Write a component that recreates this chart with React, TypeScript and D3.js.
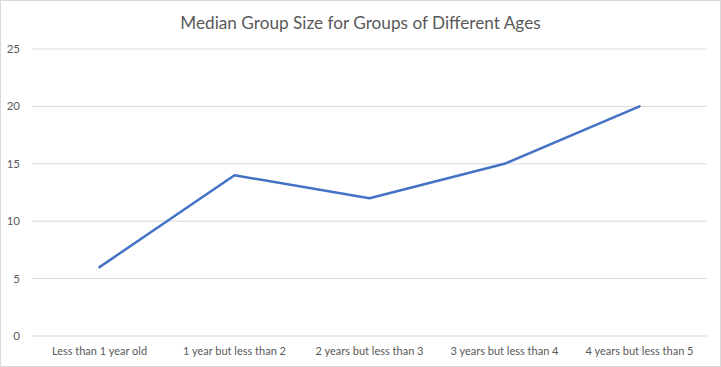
import React from "react";
import * as d3 from "d3";

const categories = [
  "Less than 1 year old",
  "1 year but less than 2",
  "2 years but less than 3",
  "3 years but less than 4",
  "4 years but less than 5",
];
const values = [6, 14, 12, 15, 20];
const yTicks = [0, 5, 10, 15, 20, 25];
const title = "Median Group Size for Groups of Different Ages";

export default function App() {
  const W = 721;
  const H = 367;
  const left = 32;
  const right = 707;
  const top = 49;
  const bottom = 336;

  const x = d3.scalePoint<string>().domain(categories).range([left, right]).padding(0.5);
  const y = d3.scaleLinear().domain([0, 25]).range([bottom, top]);
  const line = d3
    .line<number>()
    .x((_, i) => x(categories[i]) as number)
    .y((d) => y(d));

  const textColor = "#595959";
  const font = "Lato, 'Open Sans', sans-serif";

  return (
    <svg
      width={W}
      height={H}
      style={{ position: "absolute", left: 0, top: 0, background: "#fff" }}
    >
      <rect x={0.5} y={0.5} width={W - 1} height={H - 1} fill="#fff" stroke="#d9d9d9" />
      <text
        x={W / 2}
        y={29}
        textAnchor="middle"
        fontFamily={font}
        fontSize={17.2}
        fill={textColor}
      >
        {title}
      </text>
      {yTicks.map((t) => (
        <g key={t}>
          <line x1={left} x2={right} y1={y(t)} y2={y(t)} stroke="#d9d9d9" strokeWidth={1} />
          <text
            x={20}
            y={y(t)}
            dy="0.35em"
            textAnchor="end"
            fontFamily={font}
            fontSize={11.5}
            fill={textColor}
          >
            {t}
          </text>
        </g>
      ))}
      {categories.map((c) => (
        <text
          key={c}
          x={x(c) as number}
          y={355}
          textAnchor="middle"
          fontFamily={font}
          fontSize={11}
          fill={textColor}
        >
          {c}
        </text>
      ))}
      <path
        d={line(values) as string}
        fill="none"
        stroke="#4472C4"
        strokeWidth={2.5}
        strokeLinejoin="round"
        strokeLinecap="round"
      />
    </svg>
  );
}
